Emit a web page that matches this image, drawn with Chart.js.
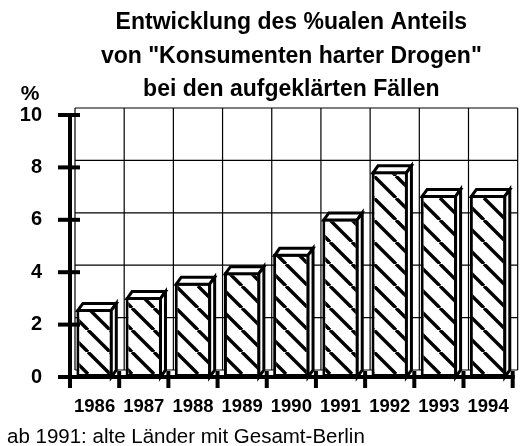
<!DOCTYPE html>
<html>
<head>
<meta charset="utf-8">
<script src="https://cdn.jsdelivr.net/npm/chart.js@4/dist/chart.umd.min.js"></script>
<style>
    html, body { margin: 0; padding: 0; background: #fff; }
    #box { width: 528px; height: 446px; position: relative; }
</style>
</head>
<body>
<div id="box"><canvas id="drogen-chart"></canvas></div>
<script>
const years = ['1986', '1987', '1988', '1989', '1990', '1991', '1992', '1993', '1994'];
const anteil = [2.6, 3.05, 3.6, 4.0, 4.7, 6.05, 7.85, 6.95, 6.95];
const yTicks = [0, 2, 4, 6, 8, 10];
const titleLines = ['Entwicklung des %ualen Anteils', 'von "Konsumenten harter Drogen"', 'bei den aufgeklärten Fällen'];
const unitLabel = '%';
const footnote = 'ab 1991: alte Länder mit Gesamt-Berlin';

const FONT = '"Liberation Sans", Arial, Helvetica, sans-serif';
const DX = 5, DY = -7;

// diagonal hatch "\"
function hatchPattern() {
    const s = 22;
    const c = document.createElement('canvas');
    c.width = s; c.height = s;
    const g = c.getContext('2d');
    g.fillStyle = '#fff';
    g.fillRect(0, 0, s, s);
    g.strokeStyle = '#000';
    g.lineWidth = 3.4;
    for (let k = -1; k <= 1; k++) {
        g.beginPath();
        g.moveTo(k * s, 0);
        g.lineTo(k * s + s, s);
        g.stroke();
    }
    return g.createPattern(c, 'repeat');
}

const backGrid = {
    id: 'backGrid',
    beforeDatasetsDraw(chart) {
        const {ctx, chartArea: a, scales: {x, y}} = chart;
        const n = years.length;
        const cw = (a.right - a.left) / n;
        ctx.save();
        ctx.strokeStyle = '#000';
        ctx.lineWidth = 1.2;
        yTicks.forEach(v => {
            const py = y.getPixelForValue(v) + DY;
            ctx.beginPath();
            ctx.moveTo(a.left + DX, py);
            ctx.lineTo(a.right + DX, py);
            ctx.stroke();
        });
        for (let i = 0; i <= n; i++) {
            const px = a.left + i * cw + DX;
            ctx.beginPath();
            ctx.moveTo(px, y.getPixelForValue(10) + DY);
            ctx.lineTo(px, y.getPixelForValue(0) + DY);
            ctx.stroke();
        }
        ctx.restore();
    }
};

const bars3d = {
    id: 'bars3d',
    afterDatasetsDraw(chart) {
        const ctx = chart.ctx;
        const meta = chart.getDatasetMeta(0);
        ctx.save();
        ctx.strokeStyle = '#000';
        ctx.fillStyle = '#fff';
        ctx.lineWidth = 3;
        ctx.lineJoin = 'miter';
        meta.data.forEach(bar => {
            const l = bar.x - bar.width / 2 + 1.5;
            const r = bar.x + bar.width / 2 - 1.5;
            const t = bar.y + 1.5;
            const b = bar.base;
            // top face
            ctx.beginPath();
            ctx.moveTo(l, t);
            ctx.lineTo(l + DX, t + DY);
            ctx.lineTo(r + DX, t + DY);
            ctx.lineTo(r, t);
            ctx.closePath();
            ctx.fill();
            ctx.stroke();
            // side face
            ctx.beginPath();
            ctx.moveTo(r, t);
            ctx.lineTo(r + DX, t + DY);
            ctx.lineTo(r + DX, b + DY);
            ctx.lineTo(r, b);
            ctx.closePath();
            ctx.fill();
            ctx.stroke();
        });
        ctx.restore();
    }
};

const axesAndText = {
    id: 'axesAndText',
    afterDraw(chart) {
        const {ctx, chartArea: a, scales: {y}} = chart;
        const n = years.length;
        const cw = (a.right - a.left) / n;
        ctx.save();
        ctx.strokeStyle = '#000';
        ctx.lineCap = 'butt';
        // y axis
        ctx.lineWidth = 4;
        ctx.beginPath();
        ctx.moveTo(a.left, y.getPixelForValue(10) - 2);
        ctx.lineTo(a.left, a.bottom + 11);
        ctx.stroke();
        yTicks.forEach(v => {
            const py = y.getPixelForValue(v);
            ctx.beginPath();
            ctx.moveTo(a.left - 12, py);
            ctx.lineTo(a.left + 10, py);
            ctx.stroke();
        });
        // x axis
        ctx.beginPath();
        ctx.moveTo(a.left - 12, a.bottom);
        ctx.lineTo(a.right + 2, a.bottom);
        ctx.stroke();
        for (let i = 1; i <= n; i++) {
            const px = a.left + i * cw;
            ctx.beginPath();
            ctx.moveTo(px, a.bottom - 6);
            ctx.lineTo(px, a.bottom + 11);
            ctx.stroke();
        }

        ctx.fillStyle = '#000';
        ctx.textBaseline = 'middle';
        ctx.textAlign = 'center';
        ctx.font = 'bold 23px ' + FONT;
        const cx = (a.left + a.right) / 2;
        titleLines.forEach((line, i) => ctx.fillText(line, cx, 23 + i * 33.5));

        ctx.font = 'bold 21px ' + FONT;
        ctx.fillText(unitLabel, 30, 94);

        ctx.textAlign = 'left';
        ctx.font = '20.5px ' + FONT;
        ctx.fillText(footnote, 7, 437);
        ctx.restore();
    }
};

const drogenField = document.getElementById('drogen-chart');
const drogenChart = new Chart(drogenField, {
        type: 'bar',
        data: {
            labels: years,
            datasets: [{
                data: anteil,
                backgroundColor: hatchPattern(),
                borderColor: '#000',
                borderWidth: 3,
                borderSkipped: false,
                barPercentage: 0.74,
                categoryPercentage: 1
            }]
        },
        options: {
            maintainAspectRatio: false,
            responsive: true,
            animation: false,
            layout: {
                padding: {top: 115, right: 6, bottom: 0, left: 0}
            },
            plugins: {
                legend: {display: false},
                title: {display: false},
                tooltip: {enabled: false}
            },
            scales: {
                x: {
                    grid: {display: false, drawTicks: false},
                    border: {display: false},
                    ticks: {
                        color: '#000',
                        font: {family: FONT, size: 18.5, weight: 'bold'},
                        padding: 19,
                        maxRotation: 0,
                        autoSkip: false
                    },
                    afterFit(scale) { scale.height = 69; }
                },
                y: {
                    min: 0,
                    max: 10,
                    grid: {display: false, drawTicks: false},
                    border: {display: false},
                    ticks: {
                        stepSize: 2,
                        color: '#000',
                        font: {family: FONT, size: 20, weight: 'bold'},
                        padding: 28
                    },
                    afterFit(scale) { scale.width = 70; }
                }
            }
        },
        plugins: [backGrid, bars3d, axesAndText]
    }
);
</script>
</body>
</html>
